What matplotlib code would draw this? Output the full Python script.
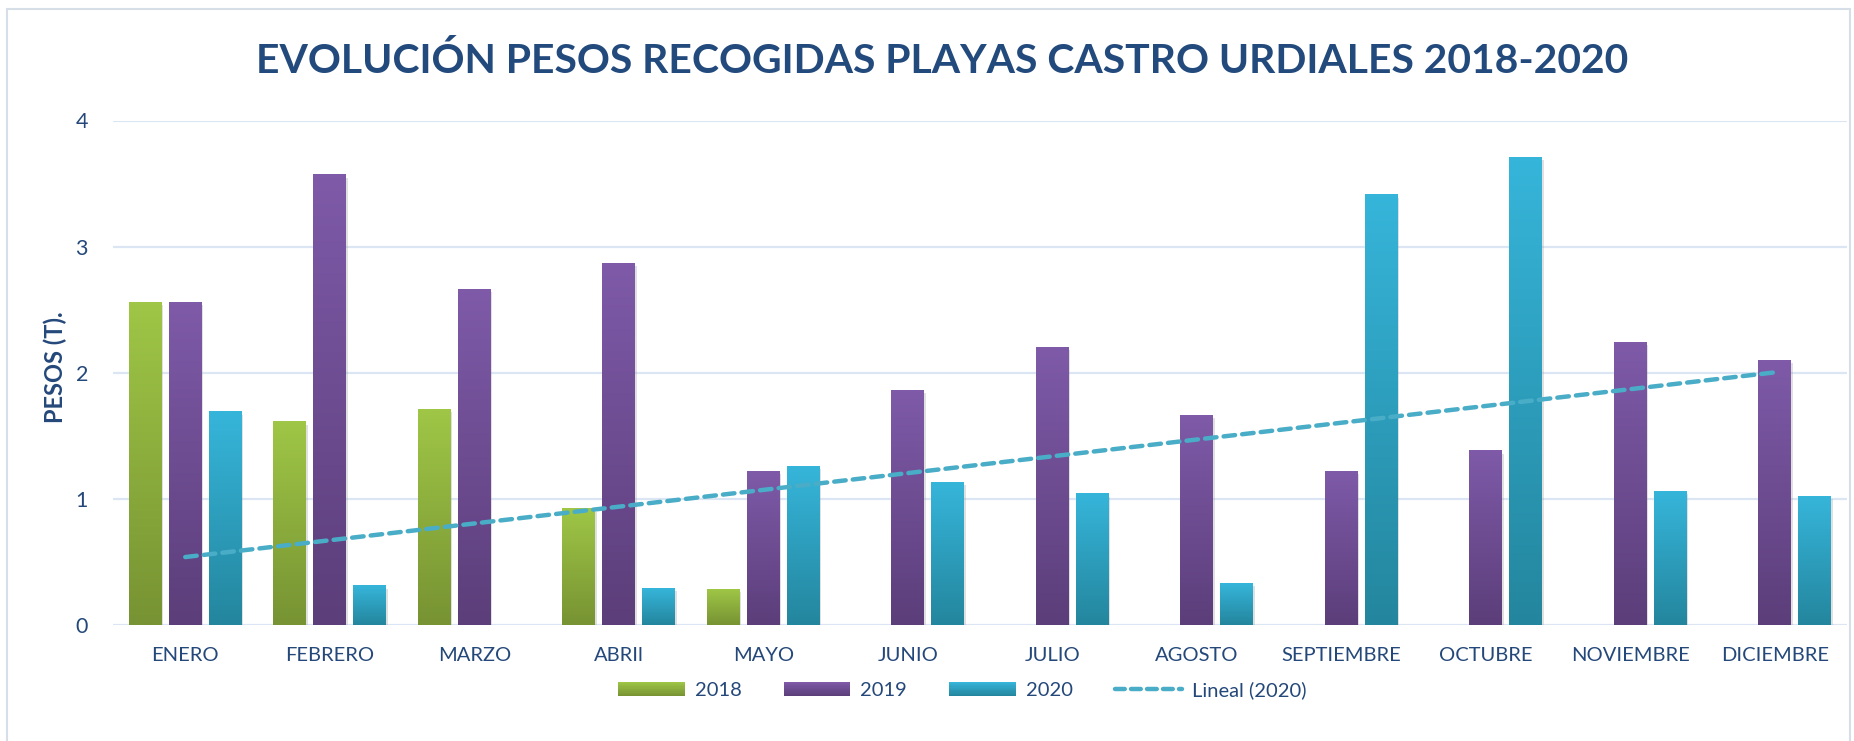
import numpy as np
import matplotlib
matplotlib.use('Agg')
import matplotlib.pyplot as plt
import matplotlib.patheffects as pe
from matplotlib.colors import to_rgb
from matplotlib.patches import Rectangle
from matplotlib.lines import Line2D
from matplotlib.legend_handler import HandlerBase

# ── DATA ─────────────────────────────────────────────────────────────────────
MONTHS = ['ENERO', 'FEBRERO', 'MARZO', 'ABRIl', 'MAYO', 'JUNIO', 'JULIO',
          'AGOSTO', 'SEPTIEMBRE', 'OCTUBRE', 'NOVIEMBRE', 'DICIEMBRE']
Y2018 = [2.56, 1.61, 1.71, 0.92, 0.28, 0, 0, 0, 0, 0, 0, 0]
Y2019 = [2.56, 3.57, 2.66, 2.87, 1.22, 1.86, 2.20, 1.66, 1.22, 1.38, 2.24, 2.10]
Y2020 = [1.69, 0.31, 0, 0.29, 1.26, 1.13, 1.04, 0.33, 3.41, 3.71, 1.06, 1.02]
YTICKS = [0, 1, 2, 3, 4]

TITLE = 'EVOLUCIÓN PESOS RECOGIDAS PLAYAS CASTRO URDIALES 2018-2020'
YLABEL = 'PESOS (T).'

# (label, values, top colour, bottom colour)
SERIES = [
    ('2018', Y2018, '#9fc646', '#779333'),
    ('2019', Y2019, '#7e5aa8', '#5c3e7a'),
    ('2020', Y2020, '#36b5da', '#24869e'),
]
TREND_COLOR = '#4aadc7'
TEXT_COLOR = '#24487a'
GRID_COLOR = '#dbe5f3'

BAR_W = 0.228
STEP = 0.277
# ─────────────────────────────────────────────────────────────────────────────

plt.rcParams['font.family'] = ['Lato', 'DejaVu Sans']


def gradient(top, bottom, n=64):
    t = np.linspace(0, 1, n)[:, None]
    c = (1 - t) * np.array(to_rgb(top)) + t * np.array(to_rgb(bottom))
    return c[:, None, :]


class GradientHandler(HandlerBase):
    def __init__(self, top, bottom, n=12):
        super().__init__()
        self.top, self.bottom, self.n = top, bottom, n

    def create_artists(self, legend, orig_handle, xdescent, ydescent,
                       width, height, fontsize, trans):
        arts = []
        cols = gradient(self.top, self.bottom, self.n)[:, 0, :]
        h = height / self.n
        for i, c in enumerate(cols):
            y = -ydescent + height - (i + 1) * h
            arts.append(Rectangle((-xdescent, y), width, h * 1.02,
                                  facecolor=c, edgecolor='none', transform=trans))
        return arts


fig = plt.figure(figsize=(18.54, 7.41), dpi=100)
ax = fig.add_axes([113 / 1854, 1 - 625 / 741, (1847 - 113) / 1854, (625 - 120.5) / 741])

# outer chart border
fig.patches.append(Rectangle((7 / 1854, -0.05), (1850 - 7) / 1854, 1.05 - 9 / 741,
                             transform=fig.transFigure, fill=False,
                             edgecolor='#d6dee8', linewidth=1.5))

x = np.arange(len(MONTHS))
shadow = [pe.SimplePatchShadow(offset=(1.2, -2.0), shadow_rgbFace='#999999', alpha=0.3),
          pe.Normal()]
for i, (label, vals, top, bot) in enumerate(SERIES):
    pos = x + (i - 1) * STEP
    for xp, v in zip(pos, vals):
        if v <= 0:
            continue
        b = ax.bar(xp, v, BAR_W, color=bot, zorder=3, linewidth=0)[0]
        b.set_path_effects(shadow)
        ax.imshow(gradient(top, bot), extent=(xp - BAR_W / 2, xp + BAR_W / 2, 0, v),
                  aspect='auto', zorder=4, interpolation='bilinear')

# linear trendline of 2020 (Excel "Lineal")
xs = x + 1
k, c0 = np.polyfit(xs, Y2020, 1)
ax.plot(x, k * xs + c0, color=TREND_COLOR, linewidth=3.2, linestyle=(0, (2.6, 1.6)),
        dash_capstyle='round', zorder=5)

ax.set_xlim(-0.5, len(MONTHS) - 0.5)
ax.set_ylim(0, 4)
ax.set_yticks(YTICKS)
ax.set_xticks(x)
ax.set_xticklabels(MONTHS)
ax.tick_params(axis='both', length=0, colors=TEXT_COLOR, labelsize=14.5)
ax.tick_params(axis='y', pad=18, labelsize=15.5)
ax.tick_params(axis='x', pad=16)
ax.grid(axis='y', color=GRID_COLOR, linewidth=1.6, zorder=0)
ax.set_axisbelow(True)
for s in ax.spines.values():
    s.set_visible(False)

fig.text(0.508, 1 - 61 / 741, TITLE, ha='center', va='center',
         fontsize=29.4, fontweight='bold', color='#234a7c')
fig.text(55 / 1854, 0.505, YLABEL, rotation=90, ha='center', va='center',
         fontsize=17, fontweight='bold', color=TEXT_COLOR)

handles = [Rectangle((0, 0), 1, 1) for _ in SERIES]
handler_map = {h: GradientHandler(top, bot) for h, (_, _, top, bot) in zip(handles, SERIES)}
trend_handle = Line2D([], [], color=TREND_COLOR, linewidth=3.2, linestyle=(0, (2.2, 1.4)),
                      dash_capstyle='round')
leg = fig.legend(handles + [trend_handle], [s[0] for s in SERIES] + ['Lineal (2020)'],
                 handler_map=handler_map, loc='center', bbox_to_anchor=(0.519, 1 - 690 / 741),
                 ncol=4, frameon=False, fontsize=14.5, handlelength=3.3, handleheight=0.75,
                 handletextpad=0.5, columnspacing=2.1)
for t in leg.get_texts():
    t.set_color(TEXT_COLOR)

fig.savefig('out.png', dpi=100, facecolor='white')
